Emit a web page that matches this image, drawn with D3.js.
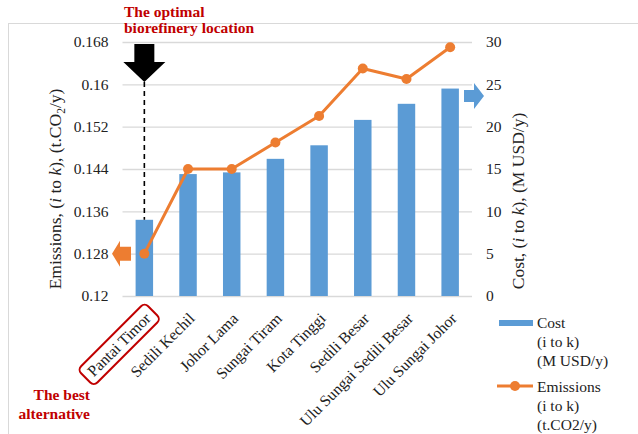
<!DOCTYPE html>
<html>
<head>
<meta charset="utf-8">
<script src="https://cdn.jsdelivr.net/npm/d3@7"></script>
<style>
  html, body { margin: 0; padding: 0; background: #fff; }
  svg { display: block; font-family: "Liberation Serif", "Times New Roman", serif; }
</style>
</head>
<body>
<svg id="chart" width="638" height="434"></svg>
<script>
const categories = ["Pantai Timor", "Sedili Kechil", "Johor Lama", "Sungai Tiram",
  "Kota Tinggi", "Sedili Besar", "Ulu Sungai Sedili Besar", "Ulu Sungai Johor"];
const costValues = [9.0, 14.4, 14.6, 16.2, 17.8, 20.8, 22.7, 24.5];
const emissionValues = [0.128, 0.144, 0.144, 0.149, 0.154, 0.163, 0.161, 0.167];
const leftTicks = [0.12, 0.128, 0.136, 0.144, 0.152, 0.16, 0.168];
const leftTickLabels = ["0.12", "0.128", "0.136", "0.144", "0.152", "0.16", "0.168"];
const rightTicks = [0, 5, 10, 15, 20, 25, 30];
const legendCost = ["Cost", "(i to k)", "(M USD/y)"];
const legendEmis = ["Emissions", "(i to k)", "(t.CO2/y)"];

const BLUE = "#5b9bd5", ORANGE = "#ed7d31", RED = "#c00000", GRID = "#d9d9d9";
const FONT = "Liberation Serif";
const svg = d3.select("#chart");

// outer border
svg.append("rect").attr("x", 8.5).attr("y", 23.5).attr("width", 700).attr("height", 500)
  .attr("fill", "none").attr("stroke", GRID).attr("stroke-width", 1);

const x0 = 122.5, x1 = 472, yTop = 42, yBot = 296;
const x = d3.scaleBand().domain(categories).range([x0, x1]).paddingInner(0.6).paddingOuter(0.3);
const yL = d3.scaleLinear().domain([0.12, 0.168]).range([yBot, yTop]);
const yR = d3.scaleLinear().domain([0, 30]).range([yBot, yTop]);

// left axis + grid
const gL = svg.append("g").attr("transform", `translate(${x0},0)`)
  .call(d3.axisLeft(yL).tickValues(leftTicks).tickSize(-(x1 - x0)).tickPadding(14)
    .tickFormat((d, i) => leftTickLabels[i]));
gL.attr("font-family", FONT);
gL.select(".domain").remove();
gL.selectAll(".tick line").attr("stroke", GRID).attr("stroke-width", 1.3);
gL.selectAll(".tick text").attr("font-size", 15.5).attr("fill", "#222");

// right axis
const gR = svg.append("g").attr("transform", `translate(${x1},0)`)
  .call(d3.axisRight(yR).tickValues(rightTicks).tickSize(0).tickPadding(14));
gR.attr("font-family", FONT);
gR.select(".domain").remove();
gR.selectAll(".tick text").attr("font-size", 15.5).attr("fill", "#222");

// bars
svg.append("g").selectAll("rect").data(categories).join("rect")
  .attr("x", d => x(d)).attr("width", x.bandwidth())
  .attr("y", (d, i) => yR(costValues[i]))
  .attr("height", (d, i) => yBot - yR(costValues[i]))
  .attr("fill", BLUE);

// emissions line
const cx = d => x(d) + x.bandwidth() / 2;
svg.append("path").datum(categories)
  .attr("d", d3.line().x(d => cx(d)).y((d, i) => yL(emissionValues[i])))
  .attr("fill", "none").attr("stroke", ORANGE).attr("stroke-width", 3).attr("stroke-linejoin", "round");
svg.append("g").selectAll("circle").data(categories).join("circle")
  .attr("cx", d => cx(d)).attr("cy", (d, i) => yL(emissionValues[i])).attr("r", 5)
  .attr("fill", ORANGE);

// x axis labels
const gX = svg.append("g").attr("transform", `translate(0,${yBot})`)
  .call(d3.axisBottom(x).tickSize(0).tickPadding(0));
gX.attr("font-family", FONT);
gX.select(".domain").remove();
gX.selectAll(".tick text")
  .attr("font-size", 15.8).attr("fill", "#222")
  .attr("text-anchor", "end").attr("x", 0).attr("y", 0).attr("dy", 0)
  .attr("transform", "translate(7.5,23.5) rotate(-45)");

// red rounded box around best alternative label
const firstTick = gX.select(".tick");
const ft = firstTick.select("text");
const bb = ft.node().getBBox();
firstTick.insert("rect", "text")
  .attr("x", bb.x - 6).attr("y", bb.y - 3).attr("width", bb.width + 12).attr("height", bb.height + 6)
  .attr("rx", 5).attr("fill", "none").attr("stroke", RED).attr("stroke-width", 2)
  .attr("transform", ft.attr("transform"));

// axis titles
const tL = svg.append("text").attr("transform", "translate(61,189) rotate(-90)")
  .attr("text-anchor", "middle").attr("font-size", 17.5).attr("fill", "#222");
tL.append("tspan").text("Emissions, (");
tL.append("tspan").attr("font-style", "italic").text("i");
tL.append("tspan").text(" to ");
tL.append("tspan").attr("font-style", "italic").text("k");
tL.append("tspan").text("), (t.CO");
tL.append("tspan").attr("font-size", 11.5).attr("dy", 3.5).text("2");
tL.append("tspan").attr("dy", -3.5).text("/y)");

const tR = svg.append("text").attr("transform", "translate(524,201) rotate(-90)")
  .attr("text-anchor", "middle").attr("font-size", 17.5).attr("fill", "#222");
tR.append("tspan").text("Cost, (");
tR.append("tspan").attr("font-style", "italic").text("i");
tR.append("tspan").text(" to ");
tR.append("tspan").attr("font-style", "italic").text("k");
tR.append("tspan").text("), (M USD/y)");

// black arrow + dashed line
const ax = cx(categories[0]);
svg.append("path")
  .attr("d", `M${ax - 10},44 L${ax + 10},44 L${ax + 10},62 L${ax + 21},62 L${ax},82 L${ax - 21},62 L${ax - 10},62 Z`)
  .attr("fill", "#000");
svg.append("line").attr("x1", ax).attr("x2", ax).attr("y1", 82).attr("y2", yR(costValues[0]))
  .attr("stroke", "#000").attr("stroke-width", 1.6).attr("stroke-dasharray", "5,4");

// orange left arrow (emissions axis)
const oy = yL(0.128);
svg.append("path")
  .attr("d", `M112,${oy} L120,${oy - 13} L120,${oy - 7} L131,${oy - 7} L131,${oy + 7} L120,${oy + 7} L120,${oy + 13} Z`)
  .attr("fill", ORANGE);

// blue right arrow (cost axis)
const by = 96;
svg.append("path")
  .attr("d", `M464,${by - 6} L474,${by - 6} L474,${by - 13} L484,${by} L474,${by + 13} L474,${by + 6} L464,${by + 6} Z`)
  .attr("fill", BLUE);

// annotations
const a1 = svg.append("text").attr("font-size", 15.5).attr("font-weight", "bold").attr("fill", RED);
a1.append("tspan").attr("x", 124).attr("y", 17).text("The optimal");
a1.append("tspan").attr("x", 124).attr("y", 33).text("biorefinery location");
const a2 = svg.append("text").attr("font-size", 15.5).attr("font-weight", "bold").attr("fill", RED)
  .attr("text-anchor", "end");
a2.append("tspan").attr("x", 90).attr("y", 400).text("The best");
a2.append("tspan").attr("x", 90).attr("y", 419).text("alternative");

// legend
const lg = svg.append("g");
lg.append("line").attr("x1", 499).attr("x2", 533).attr("y1", 323).attr("y2", 323)
  .attr("stroke", BLUE).attr("stroke-width", 6);
lg.append("text").attr("font-size", 15.5).attr("fill", "#222").selectAll("tspan").data(legendCost).join("tspan")
  .attr("x", 537).attr("y", (d, i) => 328 + i * 19).text(d => d);
lg.append("line").attr("x1", 497).attr("x2", 533).attr("y1", 386).attr("y2", 386)
  .attr("stroke", ORANGE).attr("stroke-width", 3);
lg.append("circle").attr("cx", 515).attr("cy", 386).attr("r", 5).attr("fill", ORANGE);
lg.append("text").attr("font-size", 15.5).attr("fill", "#222").selectAll("tspan").data(legendEmis).join("tspan")
  .attr("x", 537).attr("y", (d, i) => 392 + i * 19).text(d => d);
</script>
</body>
</html>
